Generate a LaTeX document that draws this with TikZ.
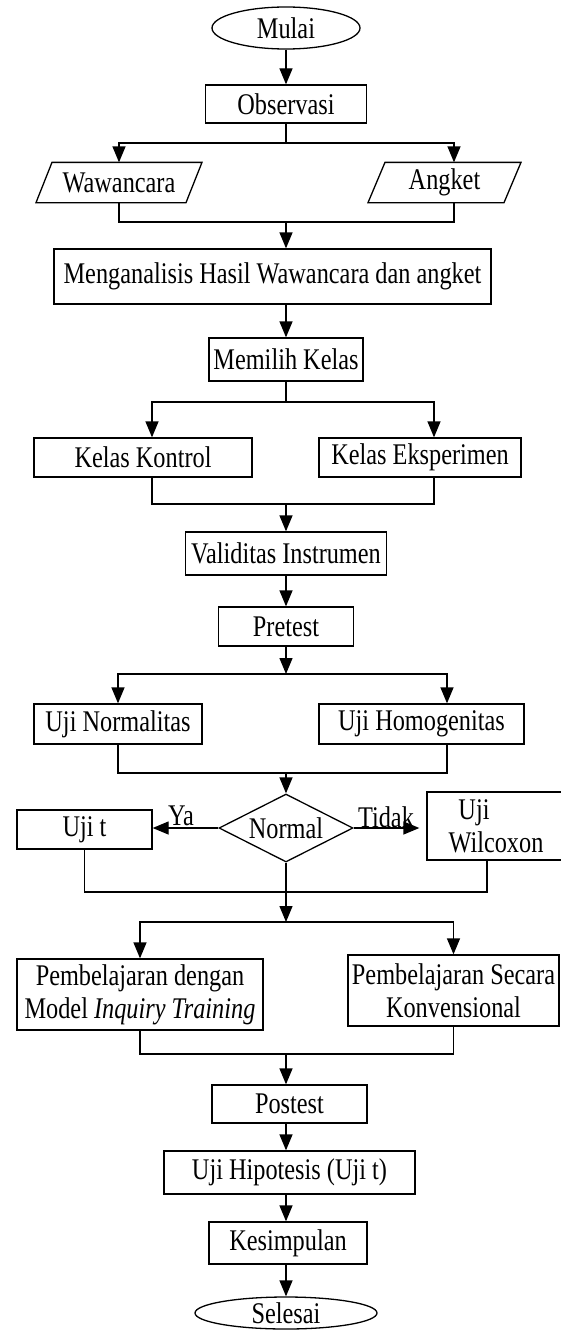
\documentclass[tikz,border=0pt]{standalone}
\usepackage{fontspec}
\setmainfont{Liberation Serif}[FakeStretch=0.81]
\usetikzlibrary{arrows.meta,shapes.geometric}
\tikzset{
  box/.style={draw, rectangle, inner sep=0pt, align=center},
  oval/.style={draw, ellipse, inner sep=0pt},
  txt/.style={inner sep=0pt, align=center},
  arr/.style={-{Triangle[length=16pt,width=13pt]}},
  lbl/.style={inner sep=0pt, anchor=base}
}
\begin{document}
\begin{tikzpicture}[x=1pt, y=-1pt, line width=1.3pt, font=\fontsize{30}{33}\selectfont]
\useasboundingbox (0,0) rectangle (561,1330);
% nodes
\node[oval, minimum width=148pt, minimum height=42pt] (mulai) at (286,28) {Mulai};
\node[box, minimum width=161pt, minimum height=38pt] (obs) at (286,104) {Observasi};
\node[txt, minimum width=150pt, minimum height=39pt] (waw) at (119,182.5) {Wawancara};
\node[txt, minimum width=136pt, minimum height=39pt] (ang) at (444.5,182.5) {Angket};
\draw ([xshift=-83pt]waw.south) -- ([xshift=-67pt]waw.north) -- ([xshift=83pt]waw.north) -- ([xshift=67pt]waw.south) -- cycle;
\draw ([xshift=-76.5pt]ang.south) -- ([xshift=-59.5pt]ang.north) -- ([xshift=76.5pt]ang.north) -- ([xshift=59.5pt]ang.south) -- cycle;
\node[box, minimum width=437pt, minimum height=55pt] (mng) at (272.5,276.5) {Menganalisis Hasil Wawancara dan angket};
\node[box, minimum width=154pt, minimum height=43pt] (mem) at (286,359.5) {Memilih Kelas};
\node[box, minimum width=218pt, minimum height=39pt] (kk) at (143,457.5) {Kelas Kontrol};
\node[box, minimum width=202pt, minimum height=39pt] (ke) at (420,457.5) {Kelas Eksperimen};
\node[box, minimum width=201pt, minimum height=43pt] (val) at (286,553.5) {Validitas Instrumen};
\node[box, minimum width=135pt, minimum height=39pt] (pre) at (286,626.5) {Pretest};
\node[box, minimum width=168pt, minimum height=40pt] (un) at (118,724) {Uji Normalitas};
\node[box, minimum width=205pt, minimum height=40pt] (uh) at (421.5,724) {Uji Homogenitas};
\node[draw, diamond, aspect=2, inner sep=0pt, minimum width=134pt, minimum height=68pt] (dia) at (286,828) {Normal};
\node[box, minimum width=135pt, minimum height=39pt] (ujt) at (84.5,829.5) {Uji t};
\node[box, minimum width=138pt, minimum height=68pt] (wil) at (496,826) {Uji\hspace*{44pt}\\Wilcoxon};
\node[box, minimum width=246pt, minimum height=71pt] (pi) at (140,994.5) {Pembelajaran dengan\\Model \textit{Inquiry Training}};
\node[box, minimum width=211pt, minimum height=71pt] (pk) at (453.5,990.5) {Pembelajaran Secara\\Konvensional};
\node[box, minimum width=155pt, minimum height=38pt] (post) at (289.5,1104) {Postest};
\node[box, minimum width=251pt, minimum height=43pt] (hip) at (289.5,1172.5) {Uji Hipotesis (Uji t)};
\node[box, minimum width=158pt, minimum height=42pt] (kes) at (288,1243) {Kesimpulan};
\node[oval, minimum width=182pt, minimum height=32pt] (sel) at (286,1313) {Selesai};
\node[lbl] (ya) at (181,825) {Ya};
\node[lbl] (tidak) at (386,827) {Tidak};
% coordinates
\coordinate (axis) at (286,0);
\coordinate (angx) at (454,0);
\coordinate (kkx) at (152,0);
\coordinate (kex) at (434,0);
\coordinate (uhx) at (447,0);
\coordinate (wilx) at (487,0);
\coordinate (j1) at (286,143);
\coordinate (j2) at (286,222);
\coordinate (j3) at (286,402);
\coordinate (j4) at (286,504);
\coordinate (j5) at (286,674);
\coordinate (j6) at (286,773);
\coordinate (j7) at (286,892);
\coordinate (j8) at (286,922);
\coordinate (j9) at (286,1054);
% connectors
\draw[arr] (mulai.south) -- (obs.north);
\draw (obs.south) -- (j1);
\draw[arr] (j1) -| (waw.north);
\draw[arr] (j1) -| (ang.north -| angx);
\draw (waw.south) |- (j2);
\draw (ang.south -| angx) |- (j2);
\draw[arr] (j2) -- (j2 |- mng.north);
\draw[arr] (mem.north |- mng.south) -- (mem.north);
\draw (mem.south) -- (j3);
\draw[arr] (j3) -| (kk.north -| kkx);
\draw[arr] (j3) -| (ke.north -| kex);
\draw (kk.south -| kkx) |- (j4);
\draw (ke.south -| kex) |- (j4);
\draw[arr] (j4) -- (val.north);
\draw[arr] (val.south) -- (pre.north);
\draw[arr] (pre.south) -- (j5);
\draw[arr] (j5) -| (un.north);
\draw[arr] (j5) -| (uh.north -| uhx);
\draw (un.south) |- (j6);
\draw (uh.south -| uhx) |- (j6);
\draw[arr] (j6) -- (dia.north);
\draw[arr] (dia.west) -- (dia.west -| ujt.east);
\draw[arr, shorten >=7pt] (dia.east) -- (dia.east -| wil.west);
\draw (ujt.south) |- (j7);
\draw (wil.south -| wilx) |- (j7);
\draw[arr] (dia.south) -- (j8);
\draw[arr] (j8) -| (pi.north);
\draw[arr] (j8) -| (pk.north);
\draw (pi.south) |- (j9);
\draw (pk.south) |- (j9);
\draw[arr] (j9) -- (j9 |- post.north);
\draw[arr] (axis |- post.south) -- (axis |- hip.north);
\draw[arr] (axis |- hip.south) -- (axis |- kes.north);
\draw[arr] (axis |- kes.south) -- (axis |- sel.north);
\end{tikzpicture}
\end{document}
